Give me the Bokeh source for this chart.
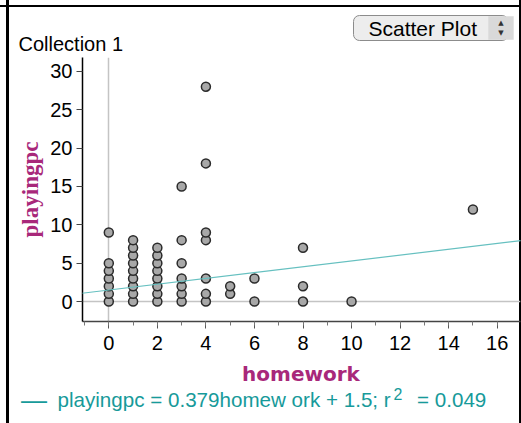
from bokeh.plotting import figure
from bokeh.layouts import column
from bokeh.models import (Range1d, SingleIntervalTicker, FixedTicker, Label,
                          Slope, ColumnDataSource)
from bokeh.embed import file_html
from bokeh.resources import INLINE

# ---- data ----
homework = ([0] * 7 + [1] * 9 + [2] * 8 + [3] * 7 + [4] * 7 +
            [5] * 2 + [6] * 2 + [8] * 3 + [10] + [15])
playingpc = ([0, 1, 2, 3, 4, 5, 9] +
             [0, 1, 2, 3, 4, 5, 6, 7, 8] +
             [0, 1, 2, 3, 4, 5, 6, 7] +
             [0, 1, 2, 3, 5, 8, 15] +
             [0, 1, 3, 8, 9, 18, 28] +
             [1, 2] +
             [0, 3] +
             [0, 2, 7] +
             [0] +
             [12])
fit_slope = 0.379
fit_intercept = 1.5
fit_r2 = 0.049
y_ticks = [0, 5, 10, 15, 20, 25, 30]
collection_name = "Collection 1"
plot_kind = "Scatter Plot"
x_name = "homework"
y_name = "playingpc"

TEAL_TEXT = "#179a9a"
TEAL_LINE = "#66c0c0"
MAGENTA = "#a8287a"
W = 521
TOP_H, MAIN_H, BOT_H = 57, 303, 63


def bare(height, y0):
    f = figure(width=W, height=height, output_backend="svg",
               toolbar_location=None, x_axis_type=None, y_axis_type=None,
               x_range=Range1d(0, W), y_range=Range1d(y0 + height, y0),
               min_border=0, frame_align=False)
    f.outline_line_color = None
    f.background_fill_color = None
    f.border_fill_color = None
    f.grid.visible = False
    return f


# ---------- top strip: collection name + menu ----------
top = bare(TOP_H, 0)
top.add_layout(Label(x=18, y=43, text=collection_name,
                     text_font="Liberation Sans", text_font_size="20px",
                     text_color="black", text_baseline="middle",
                     text_align="left"))
top.add_layout(Label(x=353, y=27.5, text=plot_kind,
                     text_font="Liberation Sans", text_font_size="21px",
                     text_color="black", text_baseline="middle",
                     text_align="left",
                     background_fill_color="#ededed",
                     border_line_color="#8c8c8c", border_line_width=1,
                     border_radius=6,
                     padding=dict(left=15, right=31, top=1, bottom=1)))
top.add_layout(Label(x=500.5, y=27.5, text="\u25b2\n\u25bc",
                     text_font="DejaVu Sans", text_font_size="7px",
                     text_color="#333333", text_baseline="middle",
                     text_align="center", text_line_height=1.2,
                     background_fill_color="#d9d9d9",
                     padding=dict(left=10, right=10, top=3, bottom=3)))

# ---------- main scatter plot ----------
p = figure(width=W, height=MAIN_H, output_backend="svg",
           toolbar_location=None, frame_align=False,
           x_range=Range1d(-1.084, 16.96), y_range=Range1d(-2.6, 31.8),
           min_border_left=82, min_border_right=1, min_border_top=0,
           min_border_bottom=39)
p.outline_line_color = None
p.background_fill_color = None
p.border_fill_color = None

p.xgrid.ticker = FixedTicker(ticks=[0])
p.ygrid.ticker = FixedTicker(ticks=[0])
for g in (p.xgrid[0], p.ygrid[0]):
    g.grid_line_color = "#c4c4c4"
    g.grid_line_width = 1.5

xa = p.xaxis[0]
xa.ticker = SingleIntervalTicker(interval=2, num_minor_ticks=2)
xa.major_tick_in = 0
xa.major_tick_out = 7
xa.minor_tick_in = 0
xa.minor_tick_out = 4
xa.axis_line_color = "#444444"
xa.axis_line_width = 1.5
xa.major_tick_line_color = "#555555"
xa.minor_tick_line_color = "#777777"
xa.major_label_text_font = "Liberation Sans"
xa.major_label_text_font_size = "20px"
xa.major_label_text_color = "black"
xa.major_label_standoff = 7

ya = p.yaxis[0]
ya.ticker = FixedTicker(ticks=y_ticks)
ya.major_tick_in = 0
ya.major_tick_out = 6
ya.minor_tick_line_color = None
ya.axis_line_color = "black"
ya.axis_line_width = 1.5
ya.major_tick_line_color = "#444444"
ya.major_label_text_font = "Liberation Sans"
ya.major_label_text_font_size = "20px"
ya.major_label_text_color = "black"
ya.major_label_standoff = 4
ya.axis_label = y_name
ya.axis_label_text_font = "Liberation Serif"
ya.axis_label_text_font_style = "bold"
ya.axis_label_text_font_size = "23px"
ya.axis_label_text_color = MAGENTA
ya.axis_label_standoff = 4

p.add_layout(Slope(gradient=fit_slope, y_intercept=fit_intercept,
                   line_color=TEAL_LINE, line_width=1.2))

src = ColumnDataSource(data=dict(homework=homework, playingpc=playingpc))
p.scatter("homework", "playingpc", source=src, size=9, fill_color="#a8a8a8",
          line_color="#2b2b2b", line_width=1.5)

# ---------- bottom strip: x title + fit legend ----------
bot = bare(BOT_H, TOP_H + MAIN_H)
bot.add_layout(Label(x=300.5, y=373, text=x_name,
                     text_font="DejaVu Sans", text_font_style="bold",
                     text_font_size="20px", text_color=MAGENTA,
                     text_baseline="middle", text_align="center"))
bot.add_layout(Label(x=20.5, y=399, text="\u2014",
                     text_font="Liberation Sans", text_font_size="26px",
                     text_color=TEAL_TEXT, text_baseline="middle",
                     text_align="left"))
bot.add_layout(Label(x=57, y=399,
                     text=f"{y_name} = {fit_slope}homew ork + {fit_intercept}; r",
                     text_font="Liberation Sans", text_font_size="20.6px",
                     text_color=TEAL_TEXT, text_baseline="middle",
                     text_align="left"))
bot.add_layout(Label(x=393, y=393, text="2",
                     text_font="Liberation Sans", text_font_size="16px",
                     text_color=TEAL_TEXT, text_baseline="middle",
                     text_align="left"))
bot.add_layout(Label(x=416.5, y=399, text=f"= {fit_r2}",
                     text_font="Liberation Sans", text_font_size="20.6px",
                     text_color=TEAL_TEXT, text_baseline="middle",
                     text_align="left"))

frame_css = ("linear-gradient(to bottom, transparent 5px, #000 5px, #000 7px, transparent 7px), "
             "linear-gradient(to right, transparent 6.5px, #000 6.5px, #000 9px, transparent 9px), "
             "linear-gradient(to left, #000 2.5px, transparent 2.5px), "
             "white")
layout = column(top, p, bot, spacing=0, styles={"background": frame_css})

open("out.html", "w").write(file_html(layout, INLINE))
